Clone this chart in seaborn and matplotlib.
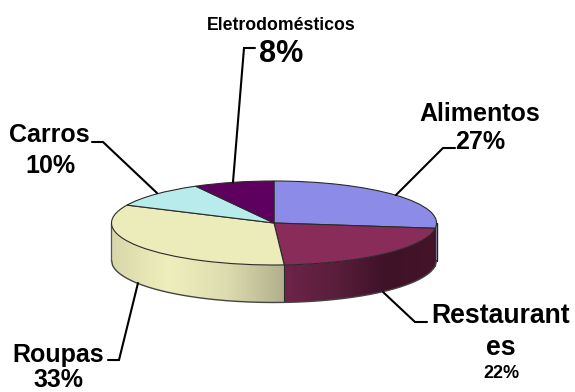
import numpy as np
import matplotlib
matplotlib.use("Agg")
import matplotlib.pyplot as plt
from matplotlib.patches import Polygon
from matplotlib.transforms import Affine2D
import seaborn as sns

# Spending shares, clockwise from twelve o'clock
categories = ["Alimentos", "Restaurantes", "Roupas", "Carros", "Eletrodomésticos"]
shares = [27, 22, 33, 10, 8]
top_colors = ["#8C8CE8", "#8A2C5A", "#ECECBA", "#B8ECEC", "#5E005E"]
# Rim shading stops, left to right along each visible side wall
rim_stops = {
    "Alimentos": ["#2A2A5E", "#2A2A5E"],
    "Restaurantes": ["#6E2449", "#5A1E3C", "#3F1228", "#451429"],
    "Roupas": ["#D8D7AA", "#EFEFBD", "#DDDCB0", "#B2B08C"],
}

W, H = 575, 392
CX, CY, RX, RY, DEPTH = 274, 223, 162.5, 42, 37.5

sns.set_theme(style="white")
plt.rcParams["font.family"] = ["Liberation Sans", "DejaVu Sans"]
plt.rcParams["font.weight"] = "bold"

fig = plt.figure(figsize=(W / 100, H / 100), dpi=100, facecolor="white")
ax = fig.add_axes([0, 0, 1, 1])
palette = sns.color_palette(top_colors)

# Flattened pie top
wedges, _ = ax.pie(
    shares, colors=palette, startangle=90, counterclock=False, radius=1,
    wedgeprops={"edgecolor": "#2a2a2a", "linewidth": 0.8, "zorder": 3},
)
ax.set_aspect("auto")
xlim = (-CX / RX, (W - CX) / RX)
ylim = (-(H - CY) / RY, CY / RY)
ax.set_xlim(xlim)
ax.set_ylim(ylim)
ax.set_axis_off()

# Side walls of the visible front half: a horizontal gradient clipped to each wall
drop = DEPTH / RY
edges = np.cumsum([0] + shares) * 3.6
for name, start, end in zip(categories, edges[:-1], edges[1:]):
    a, b = max(start, 90), min(end, 270)
    if a >= b or name not in rim_stops:
        continue
    x0, x1 = np.sin(np.radians(b)), np.sin(np.radians(a))
    xs = np.linspace(x0, x1, 120)
    ys = -np.sqrt(np.clip(1 - xs**2, 0, 1))
    outline = np.vstack([np.column_stack([xs, ys]),
                         np.column_stack([xs[::-1], ys[::-1] - drop])])
    gradient = np.array(sns.blend_palette(rim_stops[name], 256))[None, :, :3]
    image = ax.imshow(gradient, extent=(x0, x1, ys.min() - drop, 0), aspect="auto",
                      interpolation="bilinear", zorder=1)
    image.set_clip_path(Polygon(outline, closed=True, transform=ax.transData))
    ax.plot([x1, x1], [ys[-1], ys[-1] - drop], color="#2a2a2a", lw=0.8, zorder=2)
ax.set_xlim(xlim)
ax.set_ylim(ylim)

# Rim outline
xs = np.linspace(-1, 1, 300)
ys = -np.sqrt(1 - xs**2)
ax.plot(xs, ys - drop, color="#444444", lw=1.0, zorder=2)
ax.plot([-1, -1], [0, -drop], color="#555555", lw=0.9, zorder=2)
ax.plot([1, 1], [0, -drop], color="#222222", lw=0.9, zorder=2)

# Labels and leader lines are placed in image pixels, origin at top left
px = Affine2D().scale(1, -1).translate(0, H)

leaders = [
    [(455, 148), (443, 148), (396, 195)],
    [(427, 322), (415, 322), (383, 292)],
    [(108, 360), (119, 360), (138, 283)],
    [(92, 142), (103, 142), (157, 193)],
    [(255, 48), (244, 48), (233, 182)],
]
for path in leaders:
    ax.plot(*zip(*path), color="black", lw=1.5, transform=px, zorder=4, solid_joinstyle="miter")

labels = [
    ("Alimentos", 480, 114, 18), ("27%", 480, 142, 18),
    ("Restaurant", 501, 316, 19.2), ("es", 501, 348, 19.2), ("22%", 501, 374, 13),
    ("Roupas", 58, 355, 18), ("33%", 58, 380, 18),
    ("Carros", 49, 135, 18), ("10%", 50, 166, 18),
    ("Eletrodomésticos", 281, 25, 12.7), ("8%", 281, 54, 22),
]
for text, x, y, size in labels:
    ax.text(x, y, text, transform=px, ha="center", va="center",
            fontsize=size, fontweight="bold", color="black", zorder=5)

fig.savefig("out.png", dpi=100, facecolor="white")
